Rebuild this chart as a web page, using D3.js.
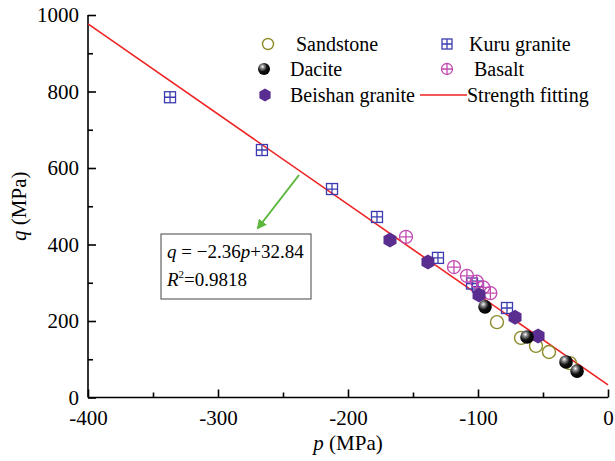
<!DOCTYPE html>
<html>
<head>
<meta charset="utf-8">
<script src="https://cdn.jsdelivr.net/npm/d3@7"></script>
<style>
  body { margin: 0; background: #fff; }
  svg { font-family: "Liberation Serif", "Times New Roman", serif; }
  .axis path, .axis line { stroke: #000; stroke-width: 1.6; }
</style>
</head>
<body>
<div id="chart"></div>
<script>
// data (p, q in MPa)
let sandstoneP = [-85.4, -66.9, -55.4, -45.4, -29.2];
let sandstoneQ = [197, 156, 135, 119, 90];

let daciteP = [-94.6, -62.3, -32.3, -23.8];
let daciteQ = [237, 158, 93, 69];

let beishanP = [-167.7, -138.5, -99.2, -71.5, -53.8];
let beishanQ = [412, 354, 268, 210, 161];

let kuruP = [-336.9, -266.2, -212.3, -177.7, -130.8, -104.6, -100.0, -77.7];
let kuruQ = [785, 647, 545, 472, 365, 298, 290, 234];

let basaltP = [-155.4, -118.5, -108.5, -101.0, -96.0, -90.5];
let basaltQ = [420, 341, 318, 303, 288, 273];

// fitting q = -2.36p + 32.84
let fitSlope = -2.36;
let fitIntercept = 32.84;
let fitRange = [-400, 0];

let xMajor = [-400, -300, -200, -100, 0];
let xMinor = [-350, -250, -150, -50];
let yMajor = [0, 200, 400, 600, 800, 1000];
let yMinor = [100, 300, 500, 700, 900];

let svgWidth = 615;
let svgHeight = 461;
let serif = '"Liberation Serif", "Times New Roman", serif';

let svg = d3.select('#chart').append('svg')
  .attr('width', svgWidth)
  .attr('height', svgHeight)
  .style('font-family', serif);

let x = d3.scaleLinear().domain([-400, 0]).range([88, 608]);
let y = d3.scaleLinear().domain([0, 1000]).range([397.5, 15]);

let defs = svg.append('defs');
let grad = defs.append('radialGradient')
  .attr('id', 'sphere')
  .attr('cx', '35%').attr('cy', '35%').attr('r', '65%')
  .attr('fx', '38%').attr('fy', '30%');
grad.append('stop').attr('offset', '0%').attr('stop-color', '#ffffff');
grad.append('stop').attr('offset', '25%').attr('stop-color', '#888');
grad.append('stop').attr('offset', '60%').attr('stop-color', '#111');
grad.append('stop').attr('offset', '100%').attr('stop-color', '#000');

defs.append('marker')
  .attr('id', 'arrow')
  .attr('viewBox', '0 0 10 10')
  .attr('refX', 8).attr('refY', 5)
  .attr('markerWidth', 5).attr('markerHeight', 5)
  .attr('orient', 'auto')
  .append('path')
  .attr('d', 'M0,0 L10,5 L0,10 z')
  .attr('fill', '#5cb83c');

let fmt = d => String(d);

// axes (ticks pointing inward)
function styleAxis(g) {
  g.attr('font-family', null).attr('font-size', null);
  g.selectAll('text')
    .style('font-family', serif)
    .style('font-size', '21px')
    .attr('fill', '#000');
}

svg.append('g').attr('class', 'axis')
  .attr('transform', `translate(0, ${y(0)})`)
  .call(d3.axisBottom(x).tickValues(xMajor).tickSize(-8).tickPadding(13).tickFormat(fmt))
  .call(styleAxis)
  .call(g => g.select('.domain').attr('d', `M${x(-400)},0H${x(0)}`));

svg.append('g').attr('class', 'axis')
  .attr('transform', `translate(0, ${y(0)})`)
  .call(d3.axisBottom(x).tickValues(xMinor).tickSize(-5).tickFormat(''))
  .call(g => g.select('.domain').remove());

svg.append('g').attr('class', 'axis')
  .attr('transform', `translate(${x(-400)}, 0)`)
  .call(d3.axisLeft(y).tickValues(yMajor).tickSize(-8).tickPadding(9).tickFormat(fmt))
  .call(styleAxis)
  .call(g => g.select('.domain').attr('d', `M0,${y(0)}V${y(1000)}`));

svg.append('g').attr('class', 'axis')
  .attr('transform', `translate(${x(-400)}, 0)`)
  .call(d3.axisLeft(y).tickValues(yMinor).tickSize(-5).tickFormat(''))
  .call(g => g.select('.domain').remove());

// axis titles
let xTitle = svg.append('text')
  .attr('x', (x(-400) + x(0)) / 2).attr('y', 450)
  .attr('text-anchor', 'middle')
  .attr('font-size', '21px');
xTitle.append('tspan').attr('font-style', 'italic').text('p');
xTitle.append('tspan').text(' (MPa)');

let yTitle = svg.append('text')
  .attr('transform', `translate(26, ${(y(0) + y(1000)) / 2}) rotate(-90)`)
  .attr('text-anchor', 'middle')
  .attr('font-size', '21px');
yTitle.append('tspan').attr('font-style', 'italic').text('q');
yTitle.append('tspan').text(' (MPa)');

// fit line
svg.append('line')
  .attr('x1', x(fitRange[0])).attr('y1', y(fitSlope * fitRange[0] + fitIntercept))
  .attr('x2', x(fitRange[1])).attr('y2', y(fitSlope * fitRange[1] + fitIntercept))
  .attr('stroke', '#ee2222')
  .attr('stroke-width', 1.6);

// symbol helpers
let colSand = '#8c8c2a';
let colKuru = '#3c3cb0';
let colBasalt = '#c24cb2';
let colBeishan = '#5a2d91';

function drawSand(g, cx, cy, r) {
  g.append('circle').attr('cx', cx).attr('cy', cy).attr('r', r)
    .attr('fill', 'none').attr('stroke', colSand).attr('stroke-width', 1.4);
}
function drawDacite(g, cx, cy, r) {
  g.append('circle').attr('cx', cx).attr('cy', cy).attr('r', r)
    .attr('fill', 'url(#sphere)');
}
function drawHex(g, cx, cy, r) {
  let pts = d3.range(6).map(i => {
    let a = Math.PI / 3 * i + Math.PI / 6;
    return [cx + r * Math.cos(a), cy + r * Math.sin(a)];
  });
  g.append('polygon').attr('points', pts.map(p => p.join(',')).join(' '))
    .attr('fill', colBeishan);
}
function drawKuru(g, cx, cy, h) {
  g.append('rect').attr('x', cx - h).attr('y', cy - h)
    .attr('width', 2 * h).attr('height', 2 * h)
    .attr('fill', 'none').attr('stroke', colKuru).attr('stroke-width', 1.3);
  g.append('path').attr('d', `M${cx - h},${cy}H${cx + h}M${cx},${cy - h}V${cy + h}`)
    .attr('stroke', colKuru).attr('stroke-width', 1.3);
}
function drawBasalt(g, cx, cy, r) {
  g.append('circle').attr('cx', cx).attr('cy', cy).attr('r', r)
    .attr('fill', 'none').attr('stroke', colBasalt).attr('stroke-width', 1.3);
  g.append('path').attr('d', `M${cx - r},${cy}H${cx + r}M${cx},${cy - r}V${cy + r}`)
    .attr('stroke', colBasalt).attr('stroke-width', 1.3);
}

let pts = svg.append('g');
kuruP.forEach((p, i) => drawKuru(pts, x(p), y(kuruQ[i]), 5.5));
basaltP.forEach((p, i) => drawBasalt(pts, x(p), y(basaltQ[i]), 6.5));
sandstoneP.forEach((p, i) => drawSand(pts, x(p), y(sandstoneQ[i]), 6.5));
beishanP.forEach((p, i) => drawHex(pts, x(p), y(beishanQ[i]), 7.5));
daciteP.forEach((p, i) => drawDacite(pts, x(p), y(daciteQ[i]), 6.8));

// legend
let legend = svg.append('g').attr('font-size', '20px');
drawSand(legend, 268, 44, 5.5);
legend.append('text').attr('x', 296).attr('y', 51).text('Sandstone');
drawDacite(legend, 264, 69, 6);
legend.append('text').attr('x', 290).attr('y', 76).text('Dacite');
drawHex(legend, 265, 95, 6.5);
legend.append('text').attr('x', 290).attr('y', 102).text('Beishan granite');
drawKuru(legend, 447, 44, 5);
legend.append('text').attr('x', 469).attr('y', 51).text('Kuru granite');
drawBasalt(legend, 447, 69, 5.5);
legend.append('text').attr('x', 474).attr('y', 76).text('Basalt');
legend.append('line').attr('x1', 420).attr('x2', 467).attr('y1', 95).attr('y2', 95)
  .attr('stroke', '#ee2222').attr('stroke-width', 1.6);
legend.append('text').attr('x', 467).attr('y', 102).text('Strength fitting');

// annotation arrow and box
svg.append('line')
  .attr('x1', 299).attr('y1', 175).attr('x2', 258).attr('y2', 228)
  .attr('stroke', '#5cb83c').attr('stroke-width', 2)
  .attr('marker-end', 'url(#arrow)');

svg.append('rect')
  .attr('x', 161).attr('y', 234).attr('width', 150).attr('height', 65)
  .attr('fill', '#fff').attr('stroke', '#444').attr('stroke-width', 1);

let eq = svg.append('text').attr('x', 167).attr('y', 258).attr('font-size', '19px');
eq.append('tspan').attr('font-style', 'italic').text('q');
eq.append('tspan').text(' = \u22122.36');
eq.append('tspan').attr('font-style', 'italic').text('p');
eq.append('tspan').text('+32.84');

let r2 = svg.append('text').attr('x', 167).attr('y', 286).attr('font-size', '19px');
r2.append('tspan').attr('font-style', 'italic').text('R');
r2.append('tspan').attr('font-size', '11px').attr('dy', -8).text('2');
r2.append('tspan').attr('dy', 8).text('=0.9818');
</script>
</body>
</html>
